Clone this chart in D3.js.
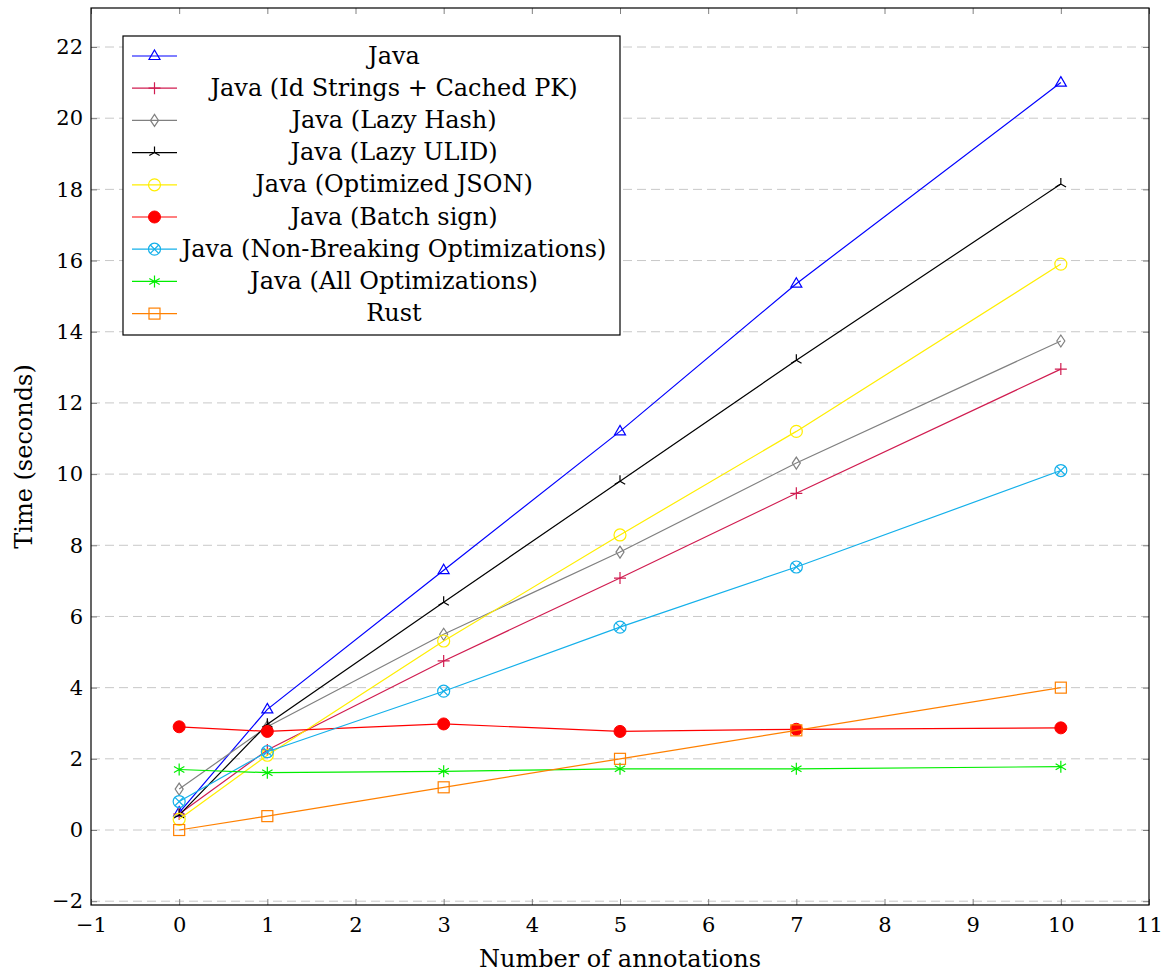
<!DOCTYPE html>
<html>
<head>
<meta charset="utf-8">
<script src="https://cdn.jsdelivr.net/npm/d3@7"></script>
<style>
  body { margin: 0; background: #fff; }
  text { font-family: "DejaVu Serif", serif; }
</style>
</head>
<body>
<div id="container"></div>
<script>
// data we work with
let annotations = [0, 1, 3, 5, 7, 10];

let javaTimes        = [0.49, 3.39, 7.3, 11.2, 15.35, 21.0];
let idStringsTimes   = [0.45, 2.25, 4.75, 7.08, 9.46, 12.95];
let lazyHashTimes    = [1.15, 2.9, 5.5, 7.81, 10.31, 13.74];
let lazyUlidTimes    = [0.42, 2.97, 6.4, 9.8, 13.2, 18.15];
let optJsonTimes     = [0.3, 2.1, 5.31, 8.29, 11.2, 15.9];
let batchSignTimes   = [2.9, 2.77, 2.98, 2.77, 2.83, 2.87];
let nonBreakingTimes = [0.8, 2.2, 3.9, 5.7, 7.39, 10.1];
let allOptsTimes     = [1.7, 1.61, 1.65, 1.72, 1.72, 1.78];
let rustTimes        = [0.0, 0.39, 1.2, 2.0, 2.8, 4.0];

let seriesNames = [
  "Java",
  "Java (Id Strings + Cached PK)",
  "Java (Lazy Hash)",
  "Java (Lazy ULID)",
  "Java (Optimized JSON)",
  "Java (Batch sign)",
  "Java (Non-Breaking Optimizations)",
  "Java (All Optimizations)",
  "Rust"
];

let xTicks = [-1, 0, 1, 2, 3, 4, 5, 6, 7, 8, 9, 10, 11];
let yTicks = [-2, 0, 2, 4, 6, 8, 10, 12, 14, 16, 18, 20, 22];

// styling per series
let styles = [
  { color: "#0000ff", marker: "triangle" },
  { color: "#d01c50", marker: "plus" },
  { color: "#808080", marker: "diamond" },
  { color: "#000000", marker: "tri" },
  { color: "#ffee00", marker: "circle" },
  { color: "#ff0000", marker: "dot" },
  { color: "#14b0ea", marker: "otimes" },
  { color: "#00ee00", marker: "asterisk" },
  { color: "#ff8000", marker: "square" }
];

let allTimes = [javaTimes, idStringsTimes, lazyHashTimes, lazyUlidTimes, optJsonTimes,
  batchSignTimes, nonBreakingTimes, allOptsTimes, rustTimes];

let series = seriesNames.map(function(name, i){
  return {
    name: name,
    style: styles[i],
    values: annotations.map(function(a, j){ return { x: a, y: allTimes[i][j] }; })
  };
});

let w = 1171;
let h = 975;
let plotLeft = 91, plotRight = 1149, plotTop = 8, plotBottom = 905;

let viz = d3.select("#container")
  .append("svg")
    .attr("width", w)
    .attr("height", h)
;

let xScale = d3.scaleLinear().domain([-1, 11]).range([plotLeft, plotRight]);
let yScale = d3.scaleLinear().domain([-2.107, 23.096]).range([plotBottom, plotTop]);

// grid
viz.append("g").selectAll("line").data(yTicks).enter().append("line")
  .attr("x1", plotLeft).attr("x2", plotRight)
  .attr("y1", function(d){ return yScale(d); })
  .attr("y2", function(d){ return yScale(d); })
  .attr("stroke", "#c8c8c8")
  .attr("stroke-width", 1)
  .attr("stroke-dasharray", "9,5")
;

function minusFormat(d){ return d < 0 ? "\u2212" + Math.abs(d) : d; }

// axes with inner ticks
let xAxis = viz.append("g").attr("transform", "translate(0," + plotBottom + ")")
  .call(d3.axisBottom(xScale).tickValues(xTicks).tickSize(-6).tickPadding(12).tickFormat(minusFormat));
let xAxisTop = viz.append("g").attr("transform", "translate(0," + plotTop + ")")
  .call(d3.axisTop(xScale).tickValues(xTicks).tickSize(-6).tickFormat(""));
let yAxis = viz.append("g").attr("transform", "translate(" + plotLeft + ",0)")
  .call(d3.axisLeft(yScale).tickValues(yTicks).tickSize(-6).tickPadding(8).tickFormat(minusFormat));
let yAxisRight = viz.append("g").attr("transform", "translate(" + plotRight + ",0)")
  .call(d3.axisRight(yScale).tickValues(yTicks).tickSize(-6).tickFormat(""));

[xAxis, xAxisTop, yAxis, yAxisRight].forEach(function(ax){
  ax.select(".domain").remove();
  ax.selectAll(".tick line").attr("stroke", "#808080");
  ax.selectAll(".tick text")
    .attr("fill", "#000")
    .style("font-family", "DejaVu Serif")
    .style("font-size", "21px");
});

// frame
viz.append("rect")
  .attr("x", plotLeft).attr("y", plotTop)
  .attr("width", plotRight - plotLeft).attr("height", plotBottom - plotTop)
  .attr("fill", "none").attr("stroke", "#000").attr("stroke-width", 1.2)
;

// axis titles
viz.append("text")
  .attr("x", (plotLeft + plotRight) / 2).attr("y", 967)
  .attr("text-anchor", "middle")
  .style("font-size", "24px")
  .text("Number of annotations")
;
viz.append("text")
  .attr("transform", "translate(32," + (plotTop + plotBottom) / 2 + ") rotate(-90)")
  .attr("text-anchor", "middle")
  .style("font-size", "24px")
  .text("Time (seconds)")
;

// marker drawing
function drawMarker(g, type, color){
  if (type == "triangle") {
    g.append("path").attr("d", "M0,-6L5.5,3.5L-5.5,3.5Z")
      .attr("fill", "none").attr("stroke", color).attr("stroke-width", 1.2);
  } else if (type == "plus") {
    g.append("path").attr("d", "M-6,0H6M0,-6V6")
      .attr("stroke", color).attr("stroke-width", 1.2);
  } else if (type == "diamond") {
    g.append("path").attr("d", "M0,-6L4,0L0,6L-4,0Z")
      .attr("fill", "none").attr("stroke", color).attr("stroke-width", 1.2);
  } else if (type == "tri") {
    g.append("path").attr("d", "M0,0V-6M0,0L5.2,3M0,0L-5.2,3")
      .attr("stroke", color).attr("stroke-width", 1.2);
  } else if (type == "circle") {
    g.append("circle").attr("r", 6)
      .attr("fill", "none").attr("stroke", color).attr("stroke-width", 1.2);
  } else if (type == "dot") {
    g.append("circle").attr("r", 6).attr("fill", color).attr("stroke", color);
  } else if (type == "otimes") {
    g.append("circle").attr("r", 6)
      .attr("fill", "none").attr("stroke", color).attr("stroke-width", 1.2);
    g.append("path").attr("d", "M-4.2,-4.2L4.2,4.2M-4.2,4.2L4.2,-4.2")
      .attr("stroke", color).attr("stroke-width", 1.2);
  } else if (type == "asterisk") {
    g.append("path").attr("d", "M0,-6V6M-5.2,-3L5.2,3M-5.2,3L5.2,-3")
      .attr("stroke", color).attr("stroke-width", 1.2);
  } else if (type == "square") {
    g.append("rect").attr("x", -5.5).attr("y", -5.5).attr("width", 11).attr("height", 11)
      .attr("fill", "none").attr("stroke", color).attr("stroke-width", 1.2);
  }
}

let lineMaker = d3.line()
  .x(function(d){ return xScale(d.x); })
  .y(function(d){ return yScale(d.y); })
;

let plot = viz.append("g");
series.forEach(function(s){
  let g = plot.append("g");
  g.append("path")
    .attr("d", lineMaker(s.values))
    .attr("fill", "none")
    .attr("stroke", s.style.color)
    .attr("stroke-width", 1.2)
  ;
  g.selectAll("g.m").data(s.values).enter().append("g")
    .attr("class", "m")
    .attr("transform", function(d){ return "translate(" + xScale(d.x) + "," + yScale(d.y) + ")"; })
    .each(function(){ drawMarker(d3.select(this), s.style.marker, s.style.color); })
  ;
});

// legend
let legX = 123, legY = 36, legW = 497, legH = 299, rowH = 32.2;
let legend = viz.append("g");
legend.append("rect")
  .attr("x", legX).attr("y", legY).attr("width", legW).attr("height", legH)
  .attr("fill", "#fff").attr("stroke", "#000").attr("stroke-width", 1.2)
;
series.forEach(function(s, i){
  let cy = legY + 20 + i * rowH;
  let row = legend.append("g");
  row.append("line")
    .attr("x1", 132).attr("x2", 177).attr("y1", cy).attr("y2", cy)
    .attr("stroke", s.style.color).attr("stroke-width", 1.2);
  let m = row.append("g").attr("transform", "translate(154.5," + cy + ")");
  drawMarker(m, s.style.marker, s.style.color);
  row.append("text")
    .attr("x", 394).attr("y", cy + 7.5)
    .attr("text-anchor", "middle")
    .style("font-size", "24px")
    .text(s.name);
});
</script>
</body>
</html>
